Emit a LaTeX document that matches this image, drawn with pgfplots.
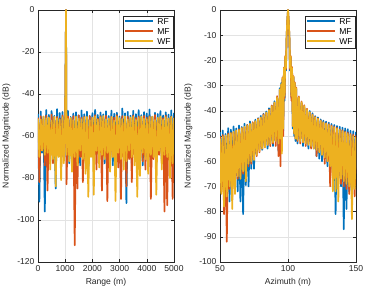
\documentclass[border=0pt]{standalone}
\usepackage{fontspec}
\setmainfont{Liberation Sans}
\usepackage{pgfplots}
\usepackage{pgfplotstable}
\pgfplotsset{compat=1.18}
\definecolor{mblue}{rgb}{0,0.447,0.741}
\definecolor{morange}{rgb}{0.85,0.325,0.098}
\definecolor{myellow}{rgb}{0.929,0.694,0.125}
\definecolor{axgray}{rgb}{0.15,0.15,0.15}

\pgfplotstableread{
x rf mf wf
0 -49.5 -51.2 -51.8
50 -91.3 -82 -70
100 -48.3 -50.6 -52.1
150 -68 -66 -67
200 -50.8 -51.9 -50.7
250 -96 -74 -69
300 -47.6 -50.3 -51.5
350 -70 -86 -68
400 -49.9 -52.4 -51.1
450 -72 -69 -76
500 -48.1 -49.8 -52.6
550 -67 -73 -71
600 -50.4 -51.0 -50.9
650 -85 -70 -84
700 -47.2 -50.9 -51.6
750 -69 -67 -70
800 -49.0 -51.7 -52.3
850 -71 -75 -81
900 -48.6 -50.2 -51.0
950 -66 -70 -73
1000 -49.8 -51.4 -50.6
1030 0 0 0
1050 -70 -83 -69
1100 -48.0 -50.7 -51.9
1150 -73 -68 -72
1200 -50.9 -52.0 -51.3
1250 -68 -71 -77
1300 -49.3 -50.5 -52.4
1350 -72 -112 -70
1400 -48.7 -51.6 -50.8
1450 -69 -85 -74
1500 -50.2 -50.1 -51.7
1550 -74 -70 -67
1600 -47.8 -51.3 -52.0
1650 -67 -82 -71
1700 -49.6 -50.8 -51.2
1750 -71 -72 -78
1800 -48.4 -52.2 -50.9
1850 -76 -74 -89
1900 -50.6 -50.4 -52.5
1950 -68 -69 -70
2000 -49.1 -51.1 -51.4
2050 -72 -71 -88
2100 -47.5 -50.0 -50.7
2150 -69 -76 -67
2200 -50.0 -51.8 -52.2
2250 -70 -68 -75
2300 -48.8 -50.6 -51.1
2350 -67 -86 -69
2400 -49.7 -51.5 -50.5
2450 -73 -70 -71
2500 -48.2 -50.3 -52.0
2550 -71 -91 -68
2600 -50.5 -51.9 -51.6
2650 -68 -73 -77
2700 -47.9 -50.9 -51.0
2750 -74 -69 -70
2800 -49.4 -51.2 -52.7
2850 -70 -72 -91
2900 -48.9 -50.1 -50.8
2950 -69 -75 -68
3000 -50.7 -52.3 -51.5
3050 -72 -90 -71
3100 -46.9 -50.5 -51.9
3150 -67 -70 -76
3200 -49.2 -51.0 -50.6
3250 -92 -84 -72
3300 -48.5 -50.8 -52.1
3350 -70 -71 -67
3400 -50.3 -51.7 -51.2
3450 -73 -82 -70
3500 -48.0 -50.2 -50.9
3550 -68 -69 -74
3600 -49.6 -51.4 -52.3
3650 -71 -74 -89
3700 -47.7 -50.7 -51.4
3750 -69 -68 -79
3800 -50.1 -52.0 -50.7
3850 -74 -72 -68
3900 -48.6 -50.4 -51.8
3950 -70 -76 -71
4000 -49.3 -51.3 -52.0
4050 -67 -70 -78
4100 -47.4 -50.6 -51.1
4150 -72 -90 -69
4200 -50.8 -51.1 -50.8
4250 -69 -71 -70
4300 -48.9 -50.0 -52.4
4350 -73 -74 -88
4400 -49.5 -51.8 -51.3
4450 -68 -69 -67
4500 -48.1 -50.9 -50.6
4550 -71 -72 -76
4600 -50.2 -51.5 -52.2
4650 -70 -96 -69
4700 -48.7 -50.3 -51.0
4750 -72 -93 -70
4800 -49.8 -51.6 -51.7
4850 -69 -71 -80
4900 -47.8 -50.8 -50.9
4950 -71 -90 -73
5000 -49.0 -51.2 -51.5
}\rangedata

\pgfplotstableread{
x rf mf wf
50 -48.5 -50.2 -51.0
51 -70 -72 -73
52 -47.8 -49.6 -50.3
53 -70 -81 -78
54 -49.2 -50.1 -49.8
55 -72 -92 -74
56 -46.9 -49.0 -49.5
57 -76 -71 -70
58 -47.5 -48.8 -48.9
59 -69 -74 -79
60 -46.2 -48.4 -48.3
61 -68 -70 -73
62 -47.0 -47.9 -47.8
63 -72 -67 -66
64 -45.8 -47.3 -47.6
65 -76 -66 -67
66 -46.4 -46.8 -46.9
67 -81 -65 -64
68 -45.1 -46.5 -46.3
69 -69.5 -63 -68
70 -45.6 -45.6 -45.9
71 -70 -62 -61
72 -44.2 -45.3 -45.2
73 -63 -61 -60
74 -44.8 -44.5 -44.9
75 -63 -59 -59.5
76 -43.5 -44.2 -44.1
77 -57 -58 -57.5
78 -42.9 -43.1 -43.3
79 -55 -56.5 -56
80 -42.0 -42.6 -42.7
81 -55.5 -55 -55
82 -41.2 -41.4 -41.8
83 -54 -54.5 -54.5
84 -40.3 -40.9 -40.7
85 -55 -53.5 -53.5
86 -39.0 -39.6 -39.8
87 -53 -54 -53
88 -38.0 -37.9 -38.2
89 -54 -53 -52.5
90 -36.2 -36.8 -36.7
91 -52 -54 -52
92 -34.6 -34.2 -34.7
93 -56 -58 -53
94 -31.0 -31.8 -31.5
94.5 -53 -62 -51
95 -29.0 -29.8 -29.5
95.5 -50 -52 -57
96 -27.5 -26.8 -27
96.5 -48 -50 -47
97 -23.5 -22.8 -23
97.5 -36 -35 -34
98 -18.8 -18.2 -18.5
98.5 -24 -23.5 -23
99 -10.5 -10.2 -10
99.5 -4.2 -4.1 -4
100 0 0 0
100.5 -4.2 -4.1 -4
101 -10.5 -10.2 -10
101.5 -24 -23.5 -23
102 -18.8 -18.2 -18.5
102.5 -35 -36 -34
103 -23.5 -22.6 -23
103.5 -47 -46 -46
104 -26.8 -26.3 -26.5
104.5 -50 -49 -49
105 -29.2 -28.7 -29
105.5 -52 -51 -51
106 -31.4 -30.7 -31
107 -53 -52 -51.5
108 -34.9 -34.3 -34.6
109 -51 -53 -52
110 -36.9 -36.3 -36.6
111 -54 -52.5 -52.5
112 -38.4 -37.8 -38.1
113 -53 -54 -53
114 -39.8 -39.2 -39.6
115 -55 -53 -53.5
116 -40.1 -40.7 -40.6
117 -54.5 -55 -54
118 -41.0 -41.5 -41.7
119 -55 -54 -55
120 -42.1 -42.4 -42.6
121 -58 -58 -55.5
122 -42.6 -43.0 -43.2
123 -59 -56 -56.5
124 -43.4 -43.8 -44.0
125 -60 -57 -57.5
126 -43.9 -44.6 -44.6
127 -59 -61 -58.5
128 -44.3 -44.9 -45.1
129 -62 -60 -60
130 -44.7 -45.3 -45.6
131 -63 -70 -62
132 -45.2 -45.8 -46.2
133 -64 -65 -72
134 -45.6 -46.3 -46.6
135 -81 -66 -72
136 -46.0 -46.7 -47.1
137 -67 -68 -76
138 -46.3 -47.4 -47.6
139 -70 -69 -67
140 -46.7 -47.7 -48.1
141 -87 -70 -68
142 -47.0 -48.3 -48.6
143 -79 -71 -69
144 -47.3 -48.6 -49.1
145 -72 -73 -70
146 -47.9 -49.2 -49.6
147 -73 -72 -83
148 -48.1 -49.5 -50.1
149 -71 -74 -71
150 -48.4 -49.8 -50.5
}\azdata

\newcommand{\lgline}[1]{\textcolor{#1}{\rule[0.3em]{28bp}{1.7pt}}\hspace{4bp}}

\pgfplotsset{
  mfig/.style={
    scale only axis, width=136bp, height=252bp,
    axis line style={axgray, line width=0.5pt},
    tick style={axgray, line width=0.5pt},
    tick align=inside, major tick length=3bp,
    grid=major, major grid style={gray!22, line width=0.5pt},
    font=\fontsize{8.6}{10}\selectfont,
    ticklabel style={text=axgray},
    label style={text=axgray},
    /pgf/number format/assume math mode=true,
    /pgf/number format/1000 sep={},
    scaled ticks=false,
    legend cell align=left,
    legend image code/.code={},
    legend style={draw=axgray, fill=white, inner xsep=1pt, inner ysep=1pt,
      nodes={inner sep=1.2pt}, font=\fontsize{8.6}{10}\selectfont},
    every axis plot/.append style={line width=1.7pt, line join=round},
  },
}

\begin{document}
\begin{tikzpicture}
\path[use as bounding box] (-38bp,-36bp) rectangle (327bp,262bp);
\begin{axis}[mfig, at={(0bp,0bp)}, anchor=south west,
  xmin=0, xmax=5000, ymin=-120, ymax=0,
  xtick={0,1000,2000,3000,4000,5000},
  ytick={-120,-100,-80,-60,-40,-20,0},
  xlabel={Range (m)}, ylabel={Normalized Magnitude (dB)},
  legend style={at={(0.993,0.975)}, anchor=north east}]
\addplot[mblue] table[x=x, y=rf] {\rangedata};
\addlegendentry{\lgline{mblue}RF}
\addplot[morange] table[x=x, y=mf] {\rangedata};
\addlegendentry{\lgline{morange}MF}
\addplot[myellow] table[x=x, y=wf] {\rangedata};
\addlegendentry{\lgline{myellow}WF}
\end{axis}
\begin{axis}[mfig, at={(182bp,0bp)}, anchor=south west,
  xmin=50, xmax=150, ymin=-100, ymax=0,
  xtick={50,100,150},
  ytick={-100,-90,...,0},
  xlabel={Azimuth (m)}, ylabel={Normalized Magnitude (dB)},
  legend style={at={(0.993,0.975)}, anchor=north east}]
\addplot[mblue] table[x=x, y=rf] {\azdata};
\addlegendentry{\lgline{mblue}RF}
\addplot[morange] table[x=x, y=mf] {\azdata};
\addlegendentry{\lgline{morange}MF}
\addplot[myellow] table[x=x, y=wf] {\azdata};
\addlegendentry{\lgline{myellow}WF}
\end{axis}
\end{tikzpicture}
\end{document}
